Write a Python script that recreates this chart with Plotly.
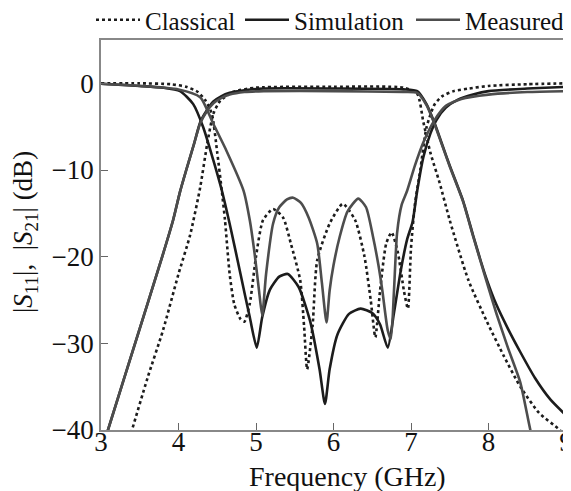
import plotly.graph_objects as go

# ---------------- data ----------------
cls_s11_f = [3.0, 3.5, 3.9, 4.1, 4.25, 4.35, 4.43, 4.5, 4.56, 4.6, 4.66, 4.72, 4.8, 4.85, 4.92, 5.0, 5.09,
             5.22, 5.35, 5.45, 5.57, 5.62, 5.66, 5.73, 5.79, 5.95, 6.12, 6.28, 6.4, 6.48, 6.54, 6.6, 6.68,
             6.75, 6.83, 6.91, 6.96, 7.0, 7.05, 7.12, 7.2, 7.3, 7.4, 7.55, 7.75, 8.0, 8.5, 9.0]
cls_s11_db = [0.0, 0.0, -0.1, -0.4, -1.0, -2.0, -3.5, -8.0, -12.5, -15.8, -22.0, -25.5, -27.2, -27.5, -25.4,
              -20.0, -15.8, -14.5, -15.5, -18.5, -22.7, -28.0, -33.0, -28.0, -20.4, -16.2, -13.9, -15.8,
              -20.0, -25.0, -29.3, -24.0, -18.5, -17.2, -19.5, -24.0, -26.0, -19.0, -14.0, -10.0, -5.1,
              -2.5, -1.5, -0.9, -0.6, -0.3, -0.1, 0.0]

cls_s21_f = [3.3, 3.4, 3.6, 3.8, 4.0, 4.15, 4.28, 4.37, 4.45, 4.54, 4.7, 5.0, 6.0, 6.9, 7.08, 7.16, 7.25,
             7.37, 7.5, 7.74, 7.98, 8.2, 8.41, 8.65, 8.92, 9.0]
cls_s21_db = [-43.0, -40.0, -34.0, -28.5, -22.0, -17.5, -12.0, -7.0, -3.5, -2.0, -1.0, -0.5, -0.4, -0.5,
              -1.2, -4.5, -8.0, -11.5, -15.8, -22.7, -27.5, -31.5, -35.0, -38.0, -40.0, -40.8]

sim_s11_f = [3.0, 3.5, 3.8, 4.02, 4.19, 4.32, 4.45, 4.56, 4.68, 4.8, 4.92, 5.01, 5.08, 5.18, 5.3, 5.41,
             5.55, 5.7, 5.82, 5.89, 5.95, 6.05, 6.2, 6.35, 6.5, 6.6, 6.7, 6.78, 6.87, 6.95, 7.02, 7.08,
             7.16, 7.25, 7.33, 7.45, 7.6, 7.8, 8.0, 8.5, 9.0]
sim_s11_db = [-0.05, -0.3, -0.5, -0.9, -2.4, -5.1, -8.9, -12.4, -17.0, -22.0, -27.0, -30.5, -27.0, -23.8,
              -22.3, -22.0, -23.5, -27.5, -33.0, -37.0, -33.0, -29.0, -26.6, -26.0, -26.5, -27.8, -30.5,
              -26.5, -21.5, -18.0, -16.0, -12.4, -8.5, -5.8, -4.2, -2.8, -1.9, -1.3, -0.9, -0.6, -0.4]

sim_s21_f = [3.0, 3.09, 3.44, 3.79, 3.93, 4.02, 4.1, 4.2, 4.28, 4.36, 4.45, 4.55, 4.66, 4.85, 5.1, 6.0,
             6.9, 7.08, 7.2, 7.3, 7.4, 7.5, 7.67, 7.8, 7.9, 7.98, 8.1, 8.25, 8.41, 8.6, 8.8, 9.0]
sim_s21_db = [-42.5, -40.0, -30.0, -20.0, -15.8, -12.5, -10.0, -7.0, -4.5, -3.2, -2.1, -1.5, -1.1, -0.8,
              -0.6, -0.6, -0.7, -0.9, -2.4, -4.5, -7.0, -9.5, -13.5, -17.5, -20.5, -22.7, -25.5, -28.3,
              -31.0, -34.0, -36.5, -38.3]

mea_s11_f = [3.0, 3.5, 4.0, 4.28, 4.45, 4.62, 4.84, 4.92, 4.98, 5.04, 5.08, 5.13, 5.22, 5.3, 5.4, 5.48,
             5.58, 5.68, 5.79, 5.85, 5.91, 5.95, 6.0, 6.08, 6.18, 6.32, 6.42, 6.51, 6.58, 6.63, 6.7, 6.74,
             6.78, 6.82, 6.88, 6.95, 7.05, 7.16, 7.3, 7.45, 7.65, 8.0, 8.5, 9.0]
mea_s11_db = [-0.05, -0.3, -0.7, -1.6, -4.7, -7.8, -12.4, -15.8, -19.5, -24.0, -26.8, -22.0, -16.2, -14.3,
              -13.4, -13.2, -13.8, -15.5, -18.5, -23.0, -27.6, -23.9, -21.0, -17.7, -14.8, -13.3, -14.3,
              -17.7, -21.0, -23.9, -28.5, -29.5, -24.0, -17.3, -14.0, -12.4, -9.5, -6.8, -4.3, -2.6,
              -1.8, -1.3, -1.0, -0.9]

mea_s21_f = [3.0, 3.09, 3.44, 3.79, 3.93, 4.02, 4.1, 4.2, 4.28, 4.36, 4.45, 4.55, 4.66, 4.85, 5.1, 6.0,
             6.9, 7.08, 7.2, 7.3, 7.4, 7.5, 7.67, 7.8, 7.9, 7.98, 8.1, 8.25, 8.41, 8.54, 8.6]
mea_s21_db = [-42.5, -40.0, -30.0, -20.0, -15.8, -12.5, -10.0, -7.0, -4.6, -3.3, -2.3, -1.7, -1.3, -1.0,
              -0.9, -0.9, -1.0, -1.1, -2.5, -4.6, -7.1, -9.6, -13.6, -17.6, -20.6, -23.0, -26.5, -30.5,
              -34.5, -40.0, -42.0]

x_ticks = [3, 4, 5, 6, 7, 8, 9]
y_ticks = [0, -10, -20, -30, -40]
x_title = "Frequency (GHz)"
y_title = "|<i>S</i><sub>11</sub>|,  |<i>S</i><sub>21</sub>| (dB)"

FONT = "Liberation Serif"
BLACK = "#1c1c1c"
GRAY = "#4d4d4d"

# the page body has an 8px margin, so the figure is 8px smaller than the window
W, H = 563, 483

fig = go.Figure()

def add(x, y, name, color, dash, show, legend):
    fig.add_trace(go.Scatter(
        x=x, y=y, mode="lines", name=name, showlegend=show, legend=legend,
        line=dict(color=color, width=2.6, dash=dash, shape="spline", smoothing=0.6)))

add(cls_s11_f, cls_s11_db, "Classical", BLACK, "dot", True, "legend")
add(cls_s21_f, cls_s21_db, "Classical", BLACK, "dot", False, "legend")
add(sim_s11_f, sim_s11_db, "Simulation", BLACK, "solid", True, "legend2")
add(sim_s21_f, sim_s21_db, "Simulation", BLACK, "solid", False, "legend2")
add(mea_s11_f, mea_s11_db, "Measured", GRAY, "solid", True, "legend3")
add(mea_s21_f, mea_s21_db, "Measured", GRAY, "solid", False, "legend3")

leg_common = dict(orientation="h", xref="container", yref="container", yanchor="middle",
                  xanchor="left", y=1 - 12 / H, bgcolor="rgba(0,0,0,0)", itemwidth=44,
                  font=dict(family=FONT, size=25, color="#111"))

fig.update_layout(
    width=W, height=H,
    margin=dict(l=93, r=5, t=32, b=61, autoexpand=False),
    paper_bgcolor="white", plot_bgcolor="white",
    font=dict(family=FONT, size=27, color="#111"),
    legend=dict(leg_common, x=83 / W),
    legend2=dict(leg_common, x=232 / W),
    legend3=dict(leg_common, x=403 / W),
    xaxis=dict(range=[3, 9], tickvals=x_ticks, ticktext=[str(v) for v in x_ticks],
               ticks="inside", ticklen=7, tickcolor="#666", showline=True, linecolor="#888",
               linewidth=1.5, mirror=True, showgrid=False, zeroline=False, automargin=False,
               ticklabelstandoff=-13, ticklabeloverflow="allow",
               tickfont=dict(family=FONT, size=27, color="#111")),
    yaxis=dict(range=[-40, 5], tickvals=y_ticks, ticks="inside", ticklen=7, tickcolor="#666",
               showline=True, linecolor="#888", linewidth=1.5, mirror=True, showgrid=False,
               zeroline=False, automargin=False,
               tickfont=dict(family=FONT, size=27, color="#111")),
    annotations=[
        dict(text=x_title, xref="paper", yref="paper", x=0.531, y=-0.118,
             xanchor="center", yanchor="middle", showarrow=False,
             font=dict(family=FONT, size=28, color="#111")),
        dict(text=y_title, xref="paper", yref="paper", x=-0.163, y=0.508, textangle=-90,
             xanchor="center", yanchor="middle", showarrow=False,
             font=dict(family=FONT, size=27, color="#111")),
    ],
)

fig.write_html("out.html")
